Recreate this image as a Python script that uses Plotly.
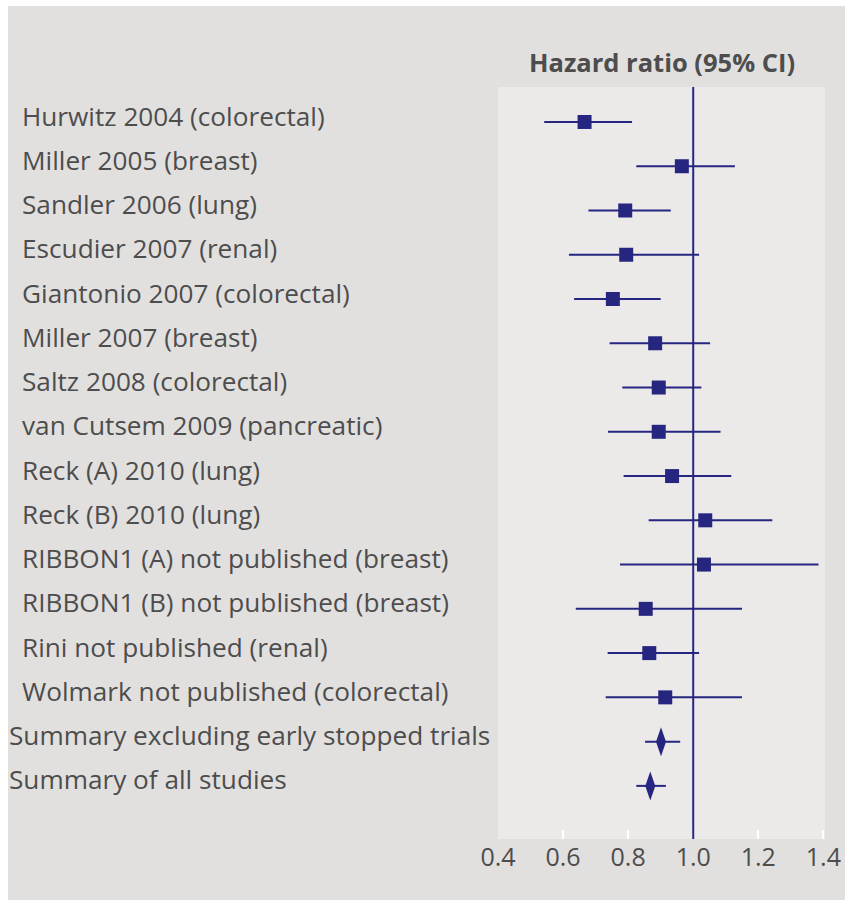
import plotly.graph_objects as go

studies = [
    "Hurwitz 2004 (colorectal)",
    "Miller 2005 (breast)",
    "Sandler 2006 (lung)",
    "Escudier 2007 (renal)",
    "Giantonio 2007 (colorectal)",
    "Miller 2007 (breast)",
    "Saltz 2008 (colorectal)",
    "van Cutsem 2009 (pancreatic)",
    "Reck (A) 2010 (lung)",
    "Reck (B) 2010 (lung)",
    "RIBBON1 (A) not published (breast)",
    "RIBBON1 (B) not published (breast)",
    "Rini not published (renal)",
    "Wolmark not published (colorectal)",
]
hr = [0.666, 0.965, 0.791, 0.794, 0.753, 0.883, 0.894, 0.894, 0.935, 1.037, 1.033, 0.854, 0.865, 0.914]
lo = [0.542, 0.825, 0.678, 0.618, 0.634, 0.743, 0.782, 0.738, 0.786, 0.863, 0.775, 0.639, 0.737, 0.731]
hi = [0.812, 1.128, 0.931, 1.018, 0.900, 1.052, 1.025, 1.084, 1.117, 1.243, 1.385, 1.150, 1.018, 1.150]

summaries = ["Summary excluding early stopped trials", "Summary of all studies"]
s_hr = [0.901, 0.868]
s_lo = [0.852, 0.825]
s_hi = [0.960, 0.916]

xticks = [0.4, 0.6, 0.8, 1.0, 1.2, 1.4]
xtick_text = ["0.4", "0.6", "0.8", "1.0", "1.2", "1.4"]

NAVY = "#262680"
TXT = "#4d4d4d"
FONT = "Open Sans"
PAPER = "#e1e0df"
PANEL = "#ebeae9"

rows = studies + summaries

W, H = 845, 900
R, T, B = 20, 87, 61
AREA_W = W - R
PANEL_L = 498
PH = H - T - B
Y_RANGE = [15 + 1.2, -0.79]
TEXT_LIFT = 3 * (Y_RANGE[0] - Y_RANGE[1]) / PH   # raise labels ~3px

fig = go.Figure()

fig.add_trace(go.Scatter(
    x=[22 / PANEL_L] * len(studies), y=studies, mode="text", text=studies,
    textposition="middle right", xaxis="x2", yaxis="y2",
    textfont=dict(family=FONT, size=26.2, color=TXT),
    showlegend=False, hoverinfo="skip", cliponaxis=False,
))
fig.add_trace(go.Scatter(
    x=[9 / PANEL_L] * len(summaries), y=summaries, mode="text", text=summaries,
    textposition="middle right", xaxis="x2", yaxis="y2",
    textfont=dict(family=FONT, size=26.2, color=TXT),
    showlegend=False, hoverinfo="skip", cliponaxis=False,
))

fig.add_trace(go.Scatter(
    x=hr, y=studies, mode="markers",
    marker=dict(symbol="square", size=14, color=NAVY, line=dict(width=0)),
    error_x=dict(type="data", symmetric=False,
                 array=[h - m for h, m in zip(hi, hr)],
                 arrayminus=[m - l for m, l in zip(hr, lo)],
                 color=NAVY, thickness=2, width=0),
    showlegend=False, hoverinfo="skip",
))

fig.add_trace(go.Scatter(
    x=s_hr, y=summaries, mode="markers",
    marker=dict(size=1, color="rgba(0,0,0,0)"),
    error_x=dict(type="data", symmetric=False,
                 array=[h - m for h, m in zip(s_hi, s_hr)],
                 arrayminus=[m - l for m, l in zip(s_hr, s_lo)],
                 color=NAVY, thickness=2, width=0),
    showlegend=False, hoverinfo="skip",
))

shapes = []
# white page edges (top and left)
shapes.append(dict(type="rect", xref="paper", yref="paper",
                   x0=0, x1=1 + R / AREA_W, y0=1 + (T - 6) / PH, y1=1 + T / PH,
                   fillcolor="white", line=dict(width=0), layer="below"))
shapes.append(dict(type="rect", xref="paper", yref="paper",
                   x0=0, x1=8 / AREA_W, y0=-B / PH, y1=1 + T / PH,
                   fillcolor="white", line=dict(width=0), layer="below"))
shapes.append(dict(type="rect", xref="x domain", yref="paper", x0=0, x1=1, y0=0, y1=1,
                   fillcolor=PANEL, line=dict(width=0), layer="below"))
shapes.append(dict(type="line", xref="x", yref="paper", x0=1.0, x1=1.0, y0=0, y1=1,
                   line=dict(color=NAVY, width=2)))
for v, name in zip(s_hr, summaries):
    shapes.append(dict(type="path", xref="x", yref="y",
                       xsizemode="pixel", ysizemode="pixel",
                       xanchor=v, yanchor=name,
                       path="M0,14.5 L5,0 L0,-14.5 L-5,0 Z",
                       fillcolor=NAVY, line=dict(width=0)))

annotations = [dict(x=0.5, xref="x domain", y=1 + (T - 62) / PH, yref="paper",
                    text="<b>Hazard ratio (95% CI)</b>", showarrow=False,
                    xanchor="center", yanchor="middle",
                    font=dict(family=FONT, size=25.5, color=TXT))]

fig.update_layout(
    template="none",
    width=W, height=H,
    margin=dict(l=0, r=R, t=T, b=B, pad=0, autoexpand=False),
    paper_bgcolor=PAPER,
    plot_bgcolor=PAPER,
    shapes=shapes,
    annotations=annotations,
    xaxis=dict(domain=[PANEL_L / AREA_W, 1], range=[0.4, 1.405],
               tickvals=xticks, ticktext=xtick_text, automargin=False,
               showgrid=False, zeroline=False, showline=False,
               ticks="inside", ticklen=9, tickwidth=2, tickcolor="white",
               ticklabeloverflow="allow",
               tickfont=dict(family=FONT, size=25, color=TXT), ticklabelstandoff=1),
    xaxis2=dict(domain=[0, PANEL_L / AREA_W], range=[0, 1], anchor="y", automargin=False,
                showgrid=False, zeroline=False, showline=False,
                showticklabels=False, ticks=""),
    yaxis=dict(type="category", categoryorder="array", categoryarray=rows,
               range=Y_RANGE, showticklabels=False, showgrid=False,
               automargin=False, zeroline=False, showline=False, ticks=""),
    yaxis2=dict(type="category", categoryorder="array", categoryarray=rows,
                range=[Y_RANGE[0] + TEXT_LIFT, Y_RANGE[1] + TEXT_LIFT],
                overlaying="y", anchor="x2", showticklabels=False, showgrid=False,
                automargin=False, zeroline=False, showline=False, ticks=""),
)

fig.write_html("out.html", config={"displayModeBar": False},
               post_script="document.body.style.margin='0';")
